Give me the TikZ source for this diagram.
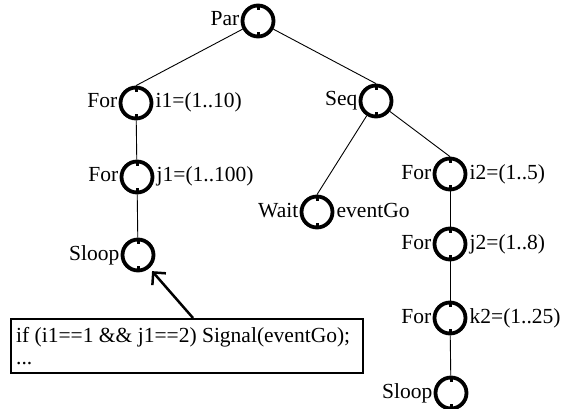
\documentclass[tikz,border=0pt]{standalone}
\usepackage{fontspec}
\setmainfont{Liberation Serif}
\usetikzlibrary{arrows.meta,calc}
\begin{document}
\begin{tikzpicture}[x=1pt,y=-1pt,
  stmt/.style={circle,draw,line width=3.8pt,minimum size=31pt,inner sep=0pt},
  nub/.style={line width=3pt},
  lbl/.style={inner sep=0pt,font=\fontsize{21.5}{24}\selectfont},
  link/.style={line width=0.9pt},
  codebox/.style={draw,line width=1.5pt,anchor=north west,minimum width=352pt,minimum height=54pt,inner sep=0pt},
  pointer/.style={line width=2.5pt,-{Straight Barb[length=9pt,width=18pt,line width=2.5pt]}}
]
\useasboundingbox (0,0) rectangle (565,409);

% statement nodes
\node[stmt] (par)    at (258,21)  {};
\node[stmt] (for1)   at (136,103) {};
\node[stmt] (seq)    at (376,101) {};
\node[stmt] (forj1)  at (137,177) {};
\node[stmt] (wait)   at (317,212) {};
\node[stmt] (fori2)  at (450,174) {};
\node[stmt] (sloop1) at (138,255) {};
\node[stmt] (forj2)  at (450,244) {};
\node[stmt] (fork2)  at (450,318) {};
\node[stmt] (sloop2) at (451,393) {};

% small marks at the top and bottom of every circle
\foreach \n in {par,for1,seq,forj1,wait,fori2,sloop1,forj2,fork2,sloop2}{
  \draw[nub] ($(\n)+(0,-15.5)$) -- ($(\n)+(0,-11)$);
  \draw[nub] ($(\n)+(0,15.5)$) -- ($(\n)+(0,11)$);
}

% names on the left
\node[lbl,anchor=base east] (parN)    at ($(par)+(-18.5,5)$)    {Par};
\node[lbl,anchor=base east] (for1N)   at ($(for1)+(-18.5,5)$)   {For};
\node[lbl,anchor=base east] (seqN)    at ($(seq)+(-18.5,5)$)    {Seq};
\node[lbl,anchor=base east] (forj1N)  at ($(forj1)+(-18.5,5)$)  {For};
\node[lbl,anchor=base east] (waitN)   at ($(wait)+(-18.5,5)$)   {Wait};
\node[lbl,anchor=base east] (fori2N)  at ($(fori2)+(-18.5,5)$)  {For};
\node[lbl,anchor=base east] (sloop1N) at ($(sloop1)+(-18.5,5)$) {Sloop};
\node[lbl,anchor=base east] (forj2N)  at ($(forj2)+(-18.5,5)$)  {For};
\node[lbl,anchor=base east] (fork2N)  at ($(fork2)+(-18.5,5)$)  {For};
\node[lbl,anchor=base east] (sloop2N) at ($(sloop2)+(-18.5,5)$) {Sloop};

% ranges and events on the right
\node[lbl,anchor=base west] (for1R)  at ($(for1)+(19.5,5)$)  {i1=(1..10)};
\node[lbl,anchor=base west] (forj1R) at ($(forj1)+(19.5,5)$) {j1=(1..100)};
\node[lbl,anchor=base west] (waitR)  at ($(wait)+(19.5,5)$)  {eventGo};
\node[lbl,anchor=base west] (fori2R) at ($(fori2)+(19.5,5)$) {i2=(1..5)};
\node[lbl,anchor=base west] (forj2R) at ($(forj2)+(19.5,5)$) {j2=(1..8)};
\node[lbl,anchor=base west] (fork2R) at ($(fork2)+(19.5,5)$) {k2=(1..25)};

% tree edges
\draw[link] (par) -- (for1.north);
\draw[link] (par) -- (seq.north);
\draw[link] (for1) -- (forj1);
\draw[link] (forj1) -- (sloop1);
\draw[link] (seq) -- (wait.north);
\draw[link] (seq) -- (fori2.north);
\draw[link] (fori2) -- (forj2);
\draw[link] (forj2) -- (fork2);
\draw[link] (fork2) -- (sloop2);

% code fragment attached to the left Sloop
\node[codebox] (code) at (10,318) {};
\node[lbl,anchor=base west] (line1) at (16,342) {if (i1==1 \&\& j1==2) Signal(eventGo);};
\node[lbl,anchor=base west] (line2) at (16,364) {...};
\coordinate (ptr) at (193,318);
\draw[pointer,shorten >=4pt] (ptr) -- (sloop1);
\end{tikzpicture}
\end{document}
